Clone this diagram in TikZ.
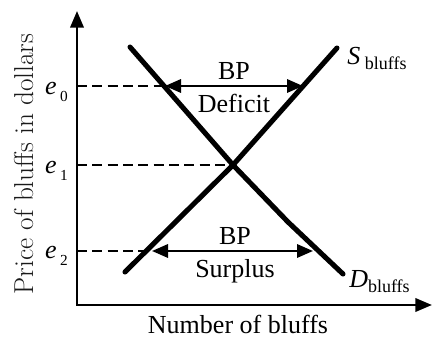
\documentclass[tikz,border=0pt]{standalone}
\usepackage{fontspec}
\newfontfamily\tnr{Liberation Serif}
\usetikzlibrary{arrows.meta, positioning}

\newcommand{\lowsub}[2]{\raisebox{-#1}{\fontsize{13.5}{14}\selectfont #2}}
\newcommand{\lvl}[1]{\textit{e}\hspace{2.5pt}\raisebox{-5pt}{\fontsize{11.5}{12}\selectfont #1}}

\begin{document}
\begin{tikzpicture}[x=0.75pt, y=-0.75pt,
  axis/.style={line width=2pt, {Triangle[length=12.5pt, width=10pt]}-{Triangle[length=12.5pt, width=10pt]}},
  curve/.style={line width=3.8pt, line cap=round, line join=round},
  guide/.style={line width=1.9pt, dash pattern=on 7.5pt off 4pt},
  gap/.style={line width=1.7pt, {Triangle[length=12pt, width=10pt]}-{Triangle[length=12pt, width=10pt]}},
  lab/.style={font=\tnr\fontsize{19.5}{23}\selectfont, inner sep=0pt}]

  \useasboundingbox (0,0) rectangle (433,338);

  \coordinate (ytop) at (77,11);
  \coordinate (origin) at (77,305);
  \coordinate (xend) at (432,305);
  \coordinate (d0) at (130,47);
  \coordinate (eq) at (233,165);
  \coordinate (d1) at (288,222);
  \coordinate (d2) at (343,274);
  \coordinate (s0) at (125,272);
  \coordinate (s1) at (337,48);
  \coordinate (p0) at (77,86);
  \coordinate (p1) at (77,165);
  \coordinate (p2) at (77,251);
  \coordinate (dp0) at (164,86);
  \coordinate (sp2) at (146,251);
  \coordinate (bpl0) at (165,86);
  \coordinate (bpr0) at (303,86);
  \coordinate (bpl2) at (152,251);
  \coordinate (bpr2) at (313,251);

  % axes
  \draw[axis] (ytop) -- (origin) -- (xend);

  % price levels
  \draw[guide] (p0) -- (dp0);
  \draw[guide] (p1) -- (eq);
  \draw[guide] (p2) -- (sp2);

  % demand and supply
  \draw[curve] (d0) -- (eq) -- (d1) -- (d2);
  \draw[curve] (s0) -- (eq) -- (s1);

  % balance of payments gaps
  \draw[gap] (bpl0) -- (bpr0);
  \draw[gap] (bpl2) -- (bpr2);

  \node (bptop) [lab, anchor=base] at (234,80) {BP};
  \node (deficit) [lab, anchor=base] at (234,113) {Deficit};
  \node (bpbot) [lab, anchor=base] at (235,245) {BP};
  \node (surplus) [lab, anchor=base] at (235,278) {Surplus};

  \node (e0) [lab, anchor=base east] at (68,95) {\lvl{0}};
  \node (e1) [lab, anchor=base east] at (68,174) {\lvl{1}};
  \node (e2) [lab, anchor=base east] at (68,259) {\lvl{2}};

  \node (slab) [lab, anchor=base west] at (347,65) {\textit{S}\hspace{3.5pt}\lowsub{3.75pt}{bluffs}};
  \node (dlab) [lab, anchor=base west] at (349,288) {\textit{D}\lowsub{3.75pt}{bluffs}};

  \node (xlab) [lab, anchor=base] at (238,334) {Number of bluffs};
  \node (ylab) [inner sep=0pt, anchor=base, rotate=90, text=black!90, font=\fontsize{20.5}{24}\selectfont] at (33,164) {Price of bluffs in dollars};
\end{tikzpicture}
\end{document}
